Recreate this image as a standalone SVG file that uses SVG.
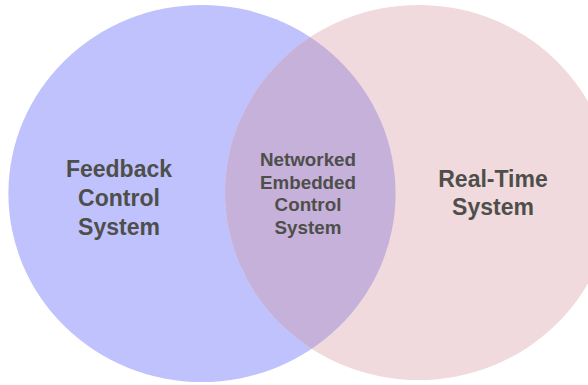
<svg xmlns="http://www.w3.org/2000/svg" width="588" height="385" viewBox="0 0 588 385">
  <style>
    .lbl { font-family: "Liberation Sans", Arial, sans-serif; font-weight: bold; fill: #4e4e4b; text-anchor: middle; }
    .big { font-size: 23px; }
    .small { font-size: 18.8px; }
  </style>
  <defs>
    <clipPath id="clipLeft">
      <ellipse cx="202" cy="193.5" rx="193.6" ry="188.5"/>
    </clipPath>
  </defs>
  <rect width="588" height="385" fill="#ffffff"/>
  <g id="feedback-control-system">
    <ellipse cx="202" cy="193.5" rx="193.6" ry="188.5" fill="#bfc2fc"/>
    <text class="lbl big" x="119" y="177">Feedback</text>
    <text class="lbl big" x="119" y="206">Control</text>
    <text class="lbl big" x="119" y="235">System</text>
  </g>
  <g id="real-time-system">
    <ellipse cx="418.6" cy="192.5" rx="193.6" ry="187.5" fill="#f1dadd"/>
    <text class="lbl big" x="493" y="187">Real-Time</text>
    <text class="lbl big" x="493" y="215">System</text>
  </g>
  <g id="networked-embedded-control-system">
    <ellipse cx="418.6" cy="192.5" rx="193.6" ry="187.5" fill="#c6b1da" clip-path="url(#clipLeft)"/>
    <text class="lbl small" x="308" y="166">Networked</text>
    <text class="lbl small" x="308" y="188.5">Embedded</text>
    <text class="lbl small" x="308" y="211">Control</text>
    <text class="lbl small" x="308" y="233.5">System</text>
  </g>
  <g id="connectors"/>
</svg>
